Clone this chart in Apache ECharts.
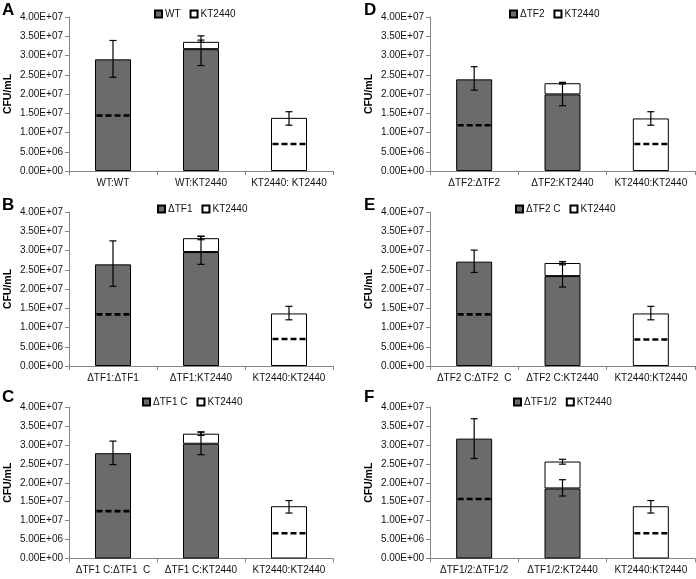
<!DOCTYPE html>
<html>
<head>
<meta charset="utf-8">
<script src="https://cdn.jsdelivr.net/npm/echarts@6/dist/echarts.min.js"></script>
<style>
html,body{margin:0;padding:0;background:#fff;}
#chart{width:696px;height:579px;}
</style>
</head>
<body>
<div id="chart"></div>
<script>
// ---------- DATA ----------
const panelLetters = ['A', 'B', 'C', 'D', 'E', 'F'];
const greyNames = ['WT', 'ΔTF1', 'ΔTF1 C', 'ΔTF2', 'ΔTF2 C', 'ΔTF1/2'];
const whiteName = 'KT2440';
const yTicks = [0, 5e6, 1e7, 1.5e7, 2e7, 2.5e7, 3e7, 3.5e7, 4e7];

const catsA = ['WT:WT', 'WT:KT2440', 'KT2440: KT2440'];
const greyA = [2.90e7, 3.165e7, null];
const whiteA = [null, 0.19e7, 1.38e7];
const greyErrA = [[2.435e7, 3.39e7], [2.74e7, 3.51e7], null];
const whiteErrA = [null, [3.34e7, 3.40e7], [1.19e7, 1.54e7]];
const halfA = [1.44e7, null, 0.70e7];

const catsB = ['ΔTF1:ΔTF1', 'ΔTF1:KT2440', 'KT2440:KT2440'];
const greyB = [2.64e7, 2.96e7, null];
const whiteB = [null, 0.36e7, 1.365e7];
const greyErrB = [[2.07e7, 3.25e7], [2.64e7, 3.37e7], null];
const whiteErrB = [null, [3.28e7, 3.37e7], [1.20e7, 1.55e7]];
const halfB = [1.34e7, null, 0.70e7];

const catsC = ['ΔTF1 C:ΔTF1  C', 'ΔTF1 C:KT2440', 'KT2440:KT2440'];
const greyC = [2.78e7, 3.03e7, null];
const whiteC = [null, 0.265e7, 1.38e7];
const greyErrC = [[2.48e7, 3.10e7], [2.74e7, 3.34e7], null];
const whiteErrC = [null, [3.25e7, 3.34e7], [1.20e7, 1.53e7]];
const halfC = [1.25e7, null, 0.665e7];

const catsD = ['ΔTF2:ΔTF2', 'ΔTF2:KT2440', 'KT2440:KT2440'];
const greyD = [2.38e7, 1.99e7, null];
const whiteD = [null, 0.29e7, 1.365e7];
const greyErrD = [[2.10e7, 2.71e7], [1.695e7, 2.30e7], null];
const whiteErrD = [null, [2.26e7, 2.30e7], [1.19e7, 1.54e7]];
const halfD = [1.19e7, null, 0.70e7];

const catsE = ['ΔTF2 C:ΔTF2  C', 'ΔTF2 C:KT2440', 'KT2440:KT2440'];
const greyE = [2.71e7, 2.335e7, null];
const whiteE = [null, 0.34e7, 1.365e7];
const greyErrE = [[2.43e7, 3.01e7], [2.05e7, 2.71e7], null];
const whiteErrE = [null, [2.63e7, 2.71e7], [1.20e7, 1.55e7]];
const halfE = [1.34e7, null, 0.69e7];

const catsF = ['ΔTF1/2:ΔTF1/2', 'ΔTF1/2:KT2440', 'KT2440:KT2440'];
const greyF = [3.165e7, 1.85e7, null];
const whiteF = [null, 0.71e7, 1.38e7];
const greyErrF = [[2.64e7, 3.69e7], [1.65e7, 2.08e7], null];
const whiteErrF = [null, [2.49e7, 2.62e7], [1.20e7, 1.53e7]];
const halfF = [1.57e7, null, 0.665e7];

const catsAll = [catsA, catsB, catsC, catsD, catsE, catsF];
const greyAll = [greyA, greyB, greyC, greyD, greyE, greyF];
const whiteAll = [whiteA, whiteB, whiteC, whiteD, whiteE, whiteF];
const greyErrAll = [greyErrA, greyErrB, greyErrC, greyErrD, greyErrE, greyErrF];
const whiteErrAll = [whiteErrA, whiteErrB, whiteErrC, whiteErrD, whiteErrE, whiteErrF];
const halfAll = [halfA, halfB, halfC, halfD, halfE, halfF];

// ---------- LAYOUT ----------
const gridPos = [
  {left: 69, top: 17, width: 264, height: 154},
  {left: 69, top: 212, width: 264, height: 154},
  {left: 69, top: 407, width: 264, height: 151.5},
  {left: 430, top: 17, width: 265, height: 154},
  {left: 430, top: 212, width: 265, height: 154},
  {left: 430, top: 407, width: 265, height: 151.5}
];
const legendPos = [
  {left: 154, top: 9}, {left: 157, top: 204}, {left: 142, top: 397},
  {left: 509, top: 9}, {left: 515, top: 204}, {left: 513, top: 397}
];
const letterPos = [
  {left: 2, top: 2}, {left: 2, top: 197}, {left: 2, top: 389},
  {left: 364, top: 2}, {left: 364, top: 197}, {left: 364, top: 389}
];

const FONT = '"Liberation Sans", Arial, sans-serif';
const AXIS_COLOR = '#868686';
const GREY = '#6b6b6b';
const BAR_W = 36;

function sciFmt(v) {
  if (v === 0) return '0.00E+00';
  const e = Math.floor(Math.log10(v) + 1e-9);
  const m = v / Math.pow(10, e);
  return m.toFixed(2) + 'E+' + String(e).padStart(2, '0');
}

const grids = [], xAxes = [], yAxes = [], series = [], legends = [], titles = [];

for (let i = 0; i < 6; i++) {
  grids.push(Object.assign({containLabel: false}, gridPos[i]));
  xAxes.push({
    type: 'category', gridIndex: i, data: catsAll[i],
    axisLine: {lineStyle: {color: AXIS_COLOR, width: 1}},
    axisTick: {show: true, length: 4, lineStyle: {color: AXIS_COLOR}},
    axisLabel: {fontFamily: FONT, fontSize: 10, color: '#111', margin: 7, interval: 0},
    splitLine: {show: false}
  });
  yAxes.push({
    type: 'value', gridIndex: i, min: 0, max: 4e7, interval: 5e6,
    name: 'CFU/mL', nameLocation: 'middle', nameGap: 55,
    nameTextStyle: {fontFamily: FONT, fontSize: 10.5, fontWeight: 'bold', color: '#000'},
    axisLine: {show: true, lineStyle: {color: AXIS_COLOR, width: 1}},
    axisTick: {show: true, length: 4, lineStyle: {color: AXIS_COLOR}},
    axisLabel: {fontFamily: FONT, fontSize: 10, color: '#111', margin: 6,
      formatter: v => yTicks.indexOf(v) >= 0 ? sciFmt(v) : ''},
    splitLine: {show: false}
  });
  const gName = greyNames[i];
  series.push({
    name: gName, type: 'bar', xAxisIndex: i, yAxisIndex: i, stack: 's' + i,
    barWidth: BAR_W, data: greyAll[i],
    itemStyle: {color: GREY, borderColor: '#000', borderWidth: 1},
    emphasis: {disabled: true}, animation: false
  });
  series.push({
    name: whiteName, type: 'bar', xAxisIndex: i, yAxisIndex: i, stack: 's' + i,
    barWidth: BAR_W, data: whiteAll[i],
    itemStyle: {color: '#ffffff', borderColor: '#000', borderWidth: 1},
    emphasis: {disabled: true}, animation: false
  });
  // dashed half-value lines
  const halfData = [];
  halfAll[i].forEach((v, k) => { if (v != null) halfData.push([k, v]); });
  series.push({
    type: 'custom', xAxisIndex: i, yAxisIndex: i, z: 4, animation: false,
    data: halfData,
    renderItem: function (params, api) {
      const p = api.coord([api.value(0), api.value(1)]);
      const hw = BAR_W / 2 - 1.5;
      return {type: 'line', shape: {x1: p[0] - hw, y1: p[1], x2: p[0] + hw, y2: p[1]},
        style: {stroke: '#000', lineWidth: 2.6, lineDash: [6, 3]}};
    }
  });
  // error bars
  const errData = [];
  greyErrAll[i].forEach((e, k) => { if (e) errData.push([k, e[0], e[1]]); });
  whiteErrAll[i].forEach((e, k) => { if (e) errData.push([k, e[0], e[1]]); });
  series.push({
    type: 'custom', xAxisIndex: i, yAxisIndex: i, z: 5, animation: false,
    data: errData,
    renderItem: function (params, api) {
      const lo = api.coord([api.value(0), api.value(1)]);
      const hi = api.coord([api.value(0), api.value(2)]);
      const cw = 3.5;
      const st = {stroke: '#000', lineWidth: 1.2};
      return {type: 'group', children: [
        {type: 'line', shape: {x1: lo[0], y1: lo[1], x2: hi[0], y2: hi[1]}, style: st},
        {type: 'line', shape: {x1: lo[0] - cw, y1: lo[1], x2: lo[0] + cw, y2: lo[1]}, style: st},
        {type: 'line', shape: {x1: hi[0] - cw, y1: hi[1], x2: hi[0] + cw, y2: hi[1]}, style: st}
      ]};
    }
  });
  legends.push({
    left: legendPos[i].left, top: legendPos[i].top, padding: 0,
    data: [gName, whiteName], icon: 'rect', itemWidth: 7, itemHeight: 7, itemGap: 9,
    selectedMode: false,
    textStyle: {fontFamily: FONT, fontSize: 10, color: '#111', padding: [0, 0, 0, -2]}
  });
  titles.push({
    text: panelLetters[i], left: letterPos[i].left, top: letterPos[i].top, padding: 0,
    textStyle: {fontFamily: FONT, fontSize: 17, fontWeight: 'bold', color: '#000'}
  });
}

const chart = echarts.init(document.getElementById('chart'), null, {renderer: 'canvas'});
chart.setOption({
  backgroundColor: '#fff',
  animation: false,
  title: titles,
  legend: legends,
  grid: grids,
  xAxis: xAxes,
  yAxis: yAxes,
  series: series
});
</script>
</body>
</html>
